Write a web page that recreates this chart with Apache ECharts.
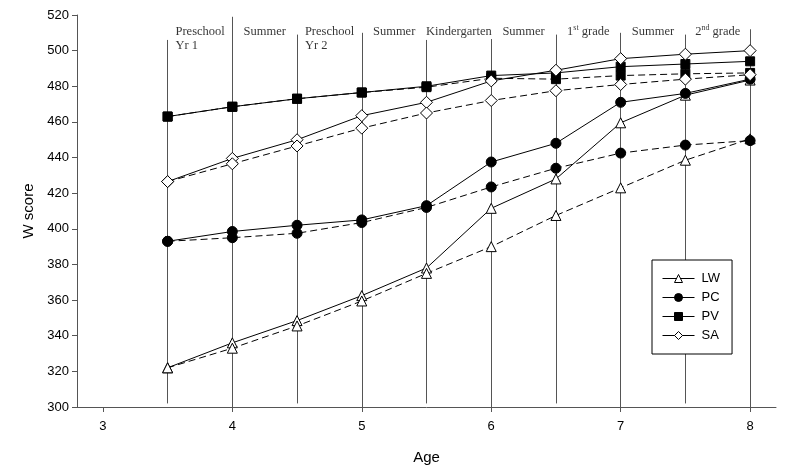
<!DOCTYPE html>
<html><head><meta charset="utf-8">
<script src="https://cdn.jsdelivr.net/npm/echarts@6/dist/echarts.min.js"></script>
<style>html,body{margin:0;padding:0;background:#fff}#c{width:793px;height:470px}</style>
</head><body><div id="c"></div>
<script>
// ---- data ----
const ages = [3.5, 4, 4.5, 5, 5.5, 6, 6.5, 7, 7.5, 8];
const LW_solid  = [322, 336, 348.5, 362.5, 378, 411.5, 428, 459.5, 475, 483.5];
const LW_dashed = [322, 333, 345.5, 359.5, 375, 390, 407.5, 423, 438.5, 450.5];
const PC_solid  = [393, 398.5, 402, 405, 413, 437.5, 448, 471, 476, 484];
const PC_dashed = [393, 395, 397.5, 403.5, 412, 423.5, 434, 442.5, 447, 449.5];
const PV_solid  = [463, 468.5, 473, 476.5, 480, 486, 487.5, 491, 492.5, 494];
const PV_dashed = [463, 468.5, 473, 476.5, 479.5, 484.5, 484, 486, 487, 487.5];
const SA_solid  = [426.5, 439.5, 450, 463.5, 471, 483, 489, 495.5, 498, 500];
const SA_dashed = [426.5, 436.5, 446.5, 456.5, 465, 472, 477.5, 481, 484, 486.5];
const periodLabels = ['Preschool\nYr 1', 'Summer', 'Preschool\nYr 2', 'Summer', 'Kindergarten', 'Summer', '{n|1}{s|st}{n| grade}', 'Summer', '{n|2}{s|nd}{n| grade}'];
const boundaryTops = [506, 519, 509, 510, 506, 506.5, 509, 510, 509, 512];
const xTicks = [3, 4, 5, 6, 7, 8];
const seriesNames = ['LW', 'PC', 'PV', 'SA'];

// ---- build ----
const pts = arr => ages.map((a, i) => [a, arr[i]]);
const labelY = 514.8;
const centers = ages.slice(0, -1).map((a, i) => (a + ages[i + 1]) / 2);

function mk(name, arr, symbol, fill, size, dashed) {
  return {
    type: 'line', name: name, data: pts(arr), symbol: symbol, symbolSize: size,
    itemStyle: { color: fill, borderColor: '#000', borderWidth: 1, opacity: 1 },
    lineStyle: { color: '#000', width: 1, type: dashed ? [7, 4] : 'solid' },
    emphasis: { disabled: true }, animation: false, z: 3
  };
}

const serif = '"Liberation Serif","Times New Roman",serif';
const sans = '"Liberation Sans",Arial,sans-serif';

const periodData = centers.map((c, i) => {
  const two = periodLabels[i].indexOf('\n') >= 0;
  return {
    value: [c, labelY],
    label: { align: two ? 'left' : 'center', offset: two ? [-24.5, 0] : [0, 0] }
  };
});

const option = {
  backgroundColor: '#fff',
  animation: false,
  grid: { left: 77, right: 17, top: 15, bottom: 62 },
  xAxis: {
    type: 'value', min: 2.8, max: 8.2,
    name: 'Age', nameLocation: 'middle', nameGap: 43,
    nameTextStyle: { fontFamily: sans, fontSize: 15, color: '#000' },
    axisLine: { lineStyle: { color: '#555', width: 1 } },
    axisTick: { show: true, length: 5, customValues: xTicks, lineStyle: { color: '#555' } },
    axisLabel: { customValues: xTicks, fontFamily: sans, fontSize: 13, color: '#000', margin: 13 },
    splitLine: { show: false }
  },
  yAxis: {
    type: 'value', min: 300, max: 520, interval: 20,
    name: 'W score', nameLocation: 'middle', nameGap: 38, nameRotate: 90,
    nameTextStyle: { fontFamily: sans, fontSize: 15, color: '#000' },
    axisLine: { show: true, lineStyle: { color: '#555', width: 1 } },
    axisTick: { show: true, length: 5, lineStyle: { color: '#555' } },
    axisLabel: { fontFamily: sans, fontSize: 13, color: '#000', margin: 8 },
    splitLine: { show: false }
  },
  legend: {
    data: seriesNames, orient: 'vertical', left: 652, top: 260,
    backgroundColor: '#fff', borderColor: '#000', borderWidth: 1,
    padding: [12, 12, 12, 10], itemGap: 6, itemWidth: 32, itemHeight: 10,
    lineStyle: { width: 1 },
    itemStyle: { borderWidth: 1 },
    textStyle: { fontFamily: sans, fontSize: 13, color: '#000', padding: [0, 0, 0, 2] },
    selectedMode: false
  },
  series: [
    {
      type: 'lines', coordinateSystem: 'cartesian2d', silent: true, z: 1,
      lineStyle: { color: '#555', width: 1, opacity: 1 },
      data: ages.map((a, i) => ({ coords: [[a, a % 1 === 0 ? 300 : 302], [a, boundaryTops[i]]] }))
    },
    {
      type: 'scatter', name: 'periods', symbolSize: 0, silent: true, z: 2,
      data: periodData,
      label: {
        show: true, position: 'inside', verticalAlign: 'top',
        formatter: p => periodLabels[p.dataIndex],
        fontFamily: serif, fontSize: 12.5, lineHeight: 14, color: '#000',
        rich: {
          n: { fontFamily: serif, fontSize: 12.5, lineHeight: 14, color: '#000' },
          s: { fontFamily: serif, fontSize: 8, lineHeight: 14, color: '#000', verticalAlign: 'top', padding: [0, 0, 4, 0] }
        }
      }
    },
    mk('LW', LW_solid, 'triangle', '#fff', 10, false),
    mk('LW dashed', LW_dashed, 'triangle', '#fff', 10, true),
    mk('PC', PC_solid, 'circle', '#000', 10, false),
    mk('PC dashed', PC_dashed, 'circle', '#000', 10, true),
    mk('PV', PV_solid, 'rect', '#000', 9, false),
    mk('PV dashed', PV_dashed, 'rect', '#000', 9, true),
    mk('SA', SA_solid, 'diamond', '#fff', 12, false),
    mk('SA dashed', SA_dashed, 'diamond', '#fff', 12, true)
  ]
};

const chart = echarts.init(document.getElementById('c'), null, { renderer: 'canvas' });
chart.setOption(option);
</script>
</body></html>
